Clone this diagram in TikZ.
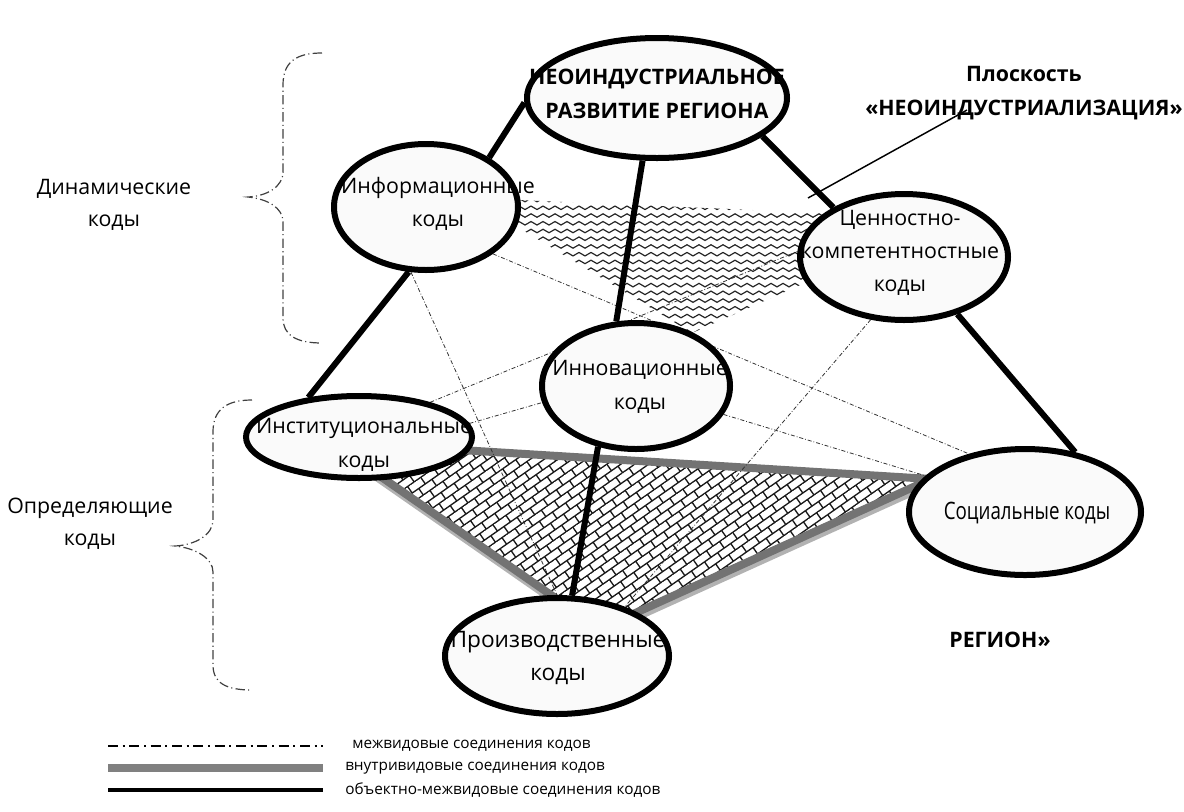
\documentclass[tikz,border=0pt]{standalone}
\usepackage{fontspec}
\setmainfont{Open Sans}
\usetikzlibrary{shapes.geometric,patterns,patterns.meta,backgrounds}

\tikzdeclarepattern{
  name=waves,
  bounding box={(0pt,-1.9pt) and (9pt,1.9pt)},
  tile size={(9pt,5.8pt)},
  code={
    \draw[line width=.9pt] (0pt,0pt) sin (2.25pt,1.3pt) cos (4.5pt,0pt) sin (6.75pt,-1.3pt) cos (9pt,0pt);
  }
}
\tikzdeclarepattern{
  name=shingle,
  bounding box={(-.5pt,-.5pt) and (12.5pt,12.5pt)},
  tile size={(12pt,12pt)},
  tile transformation={rotate=35},
  code={
    \draw[line width=1pt] (0pt,0pt) -- (12pt,0pt) (0pt,6pt) -- (12pt,6pt)
      (0pt,0pt) -- (0pt,6pt) (6pt,6pt) -- (6pt,12pt);
  }
}

\begin{document}
\begin{tikzpicture}[x=0.75pt,y=-0.75pt]
	\tikzstyle{every node}=[font=\fontsize{16}{24}\selectfont,align=center];
	\tikzstyle{code}=[draw,ellipse,line width=4.5pt,fill=black!2,inner sep=0pt];
	\tikzstyle{txt}=[font=\fontsize{16}{25}\selectfont];
	\tikzstyle{ttl}=[font=\bfseries\fontsize{16}{26}\selectfont];
	\tikzstyle{obj}=[draw,line width=4.5pt];
	\tikzstyle{inter}=[draw,line width=.6pt,black!80,dash pattern=on 3pt off 1.5pt on .6pt off 1.5pt];
	\tikzstyle{intra}=[draw,line width=6pt,black!55,line join=round];
	\tikzstyle{brc}=[draw,line width=.9pt,black!75,dash pattern=on 7pt off 2.5pt on .8pt off 2.5pt];
	\tikzstyle{leg}=[font=\fontsize{11.5}{14}\selectfont,anchor=west,inner sep=0pt];

	\useasboundingbox (0,0) rectangle (1184,811);

	% codes
	\node (neo) [code,minimum width=195pt,minimum height=90pt] at (657,98) {};
	\node (info) [code,minimum width=138pt,minimum height=94.5pt] at (426,207) {};
	\node (cen) [code,minimum width=156pt,minimum height=94.5pt] at (904,257) {};
	\node (inn) [code,minimum width=141pt,minimum height=94.5pt] at (636,386) {};
	\node (inst) [code,minimum width=169.5pt,minimum height=61.5pt] at (359,437) {};
	\node (soc) [code,minimum width=174pt,minimum height=94.5pt] at (1025,512) {};
	\node (prod) [code,minimum width=168pt,minimum height=87pt] at (557,656) {};

	\node (neo_t) [ttl] at (657,94) {НЕОИНДУСТРИАЛЬНОЕ\\РАЗВИТИЕ РЕГИОНА};
	\node (info_t) [txt] at (438,204) {Информационные\\коды};
	\node (cen_t) [txt] at (900,253) {Ценностно-\\компетентностные\\коды};
	\node (inn_t) [txt] at (640,387) {Инновационные\\коды};
	\node (inst_t) [txt] at (364,445) {Институциональные\\коды};
	\node (soc_t) [txt,font=\fontsize{18}{25}\selectfont\addfontfeatures{FakeStretch=0.78}] at (1027,513) {Социальные коды};
	\node (prod_t) [txt,font=\fontsize{17}{25}\selectfont] at (558,658) {Производственные\\коды};

	% planes and web
	\begin{scope}[on background layer]
		\fill[pattern=waves,pattern color=black!85] (470,198) -- (870,215) -- (850,263) -- (692,333) -- cycle;
		\coordinate (v1) at ([shift={(-28,5)}]inst.center);
		\coordinate (v2) at ([shift={(-94,-33)}]soc.center);
		\coordinate (v3) at ([shift={(43,-27)}]prod.center);
		\fill[pattern=shingle,pattern color=black!90] (v1) -- (v2) -- (v3) -- cycle;
		\draw[intra,black!30] ([shift={(1,4)}]v2) -- ([shift={(1,4)}]v3) -- ([shift={(1,4)}]v1);
		\draw[intra] (v1) -- (v2) -- (v3) -- cycle;
		\draw[inter] (info.257) -- (prod.90);
		\draw[inter] (info.-35) -- (soc.134);
		\draw[inter] (inst.26) -- (cen.177);
		\draw[inter] (inst.7) -- (inn.190);
		\draw[inter] (inn.-18) -- (soc.160);
		\draw[inter] (cen.242) -- (prod.36);
	\end{scope}

	\draw[obj] (neo.182) -- (info.38);
	\draw[obj] (neo.257) -- (inn.107);
	\draw[obj] (neo.-20) -- (cen.145);
	\draw[obj] (info.255) -- (inst.142);
	\draw[obj] (cen.-47) -- (soc.50);
	\draw[obj] (inn.238) -- (prod.76);

	% braces
	\draw[brc] (322,53) .. controls (296,53) and (283,62) .. (283,85) -- (283,172)
		.. controls (283,186) and (268,196) .. (248,197)
		.. controls (268,199) and (283,208) .. (283,222) -- (283,318)
		.. controls (283,335) and (296,343) .. (322,343);
	\draw[brc] (252,400) .. controls (226,400) and (213,410) .. (213,432) -- (213,520)
		.. controls (213,535) and (195,545) .. (175,546)
		.. controls (195,548) and (213,558) .. (213,572) -- (213,665)
		.. controls (213,683) and (226,690) .. (252,690);
	\node (dyn) at (114,205) {Динамические\\коды};
	\node (det) at (90,524) {Определяющие\\коды};

	% plane labels
	\node (plane) [ttl] at (1024,93) {Плоскость\\«НЕОИНДУСТРИАЛИЗАЦИЯ»};
	\node (region) [ttl] at (1000,640) {РЕГИОН»};
	\coordinate (ptr_a) at (967,110);
	\coordinate (ptr_b) at (808,198);
	\draw[line width=1.1pt] (ptr_a) -- (ptr_b);

	% legend
	\coordinate (l1a) at (108,746); \coordinate (l1b) at (323,746);
	\coordinate (l2a) at (108,768); \coordinate (l2b) at (323,768);
	\coordinate (l3a) at (108,790); \coordinate (l3b) at (323,790);
	\draw[line width=1.4pt,dash pattern=on 7.5pt off 3.5pt on 1.5pt off 3.5pt] (l1a) -- (l1b);
	\draw[line width=5.5pt,black!50] (l2a) -- (l2b);
	\draw[line width=3.5pt] (l3a) -- (l3b);
	\node (leg1) [leg] at (352,746) {межвидовые соединения кодов};
	\node (leg2) [leg] at (345,768) {внутривидовые соединения кодов};
	\node (leg3) [leg] at (345,790) {объектно-межвидовые соединения кодов};
\end{tikzpicture}
\end{document}
